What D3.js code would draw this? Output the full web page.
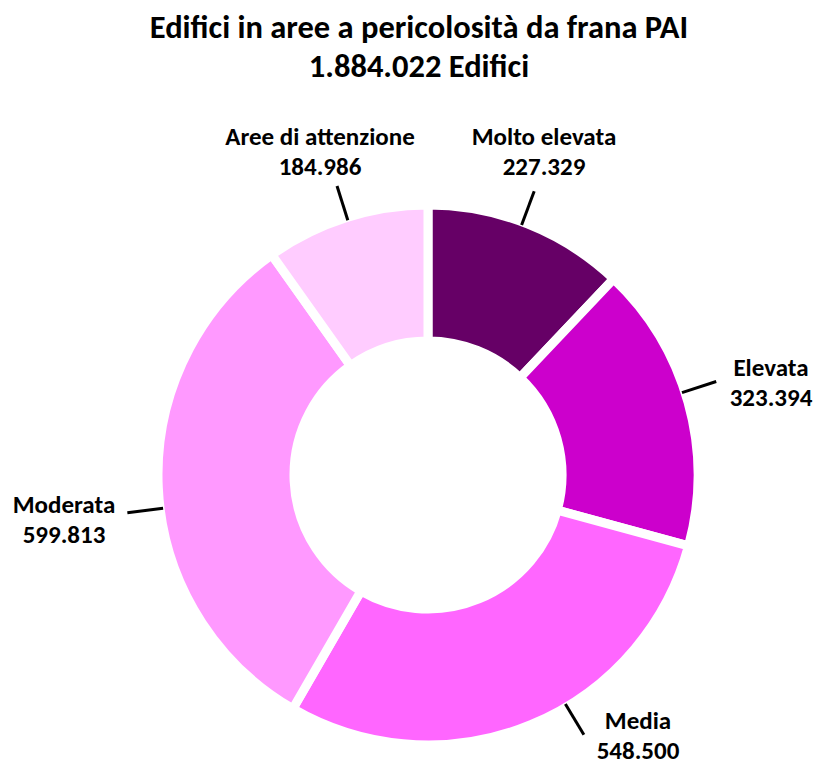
<!DOCTYPE html>
<html>
<head>
<meta charset="utf-8">
<script src="https://cdn.jsdelivr.net/npm/d3@7"></script>
<style>
  html, body { margin: 0; padding: 0; background: #fff; }
  svg text { font-family: Carlito, Calibri, Lato, "Open Sans", sans-serif; font-weight: bold; fill: #000; }
</style>
</head>
<body>
<svg id="chart" width="818" height="767"></svg>
<script>
// Buildings by landslide hazard class (PAI)
const categories = ["Molto elevata", "Elevata", "Media", "Moderata", "Aree di attenzione"];
const values = [227329, 323394, 548500, 599813, 184986];
const valueLabels = ["227.329", "323.394", "548.500", "599.813", "184.986"];
const colors = ["#660066", "#CC00CC", "#FF66FF", "#FF99FF", "#FFCCFF"];
const titleLines = ["Edifici in aree a pericolosità da frana PAI", "1.884.022 Edifici"];

// Label placement: leader angle shift (deg) from slice middle, text centre and first baseline
const labelLayout = [
  { shift: -1.2, x: 544, y: 145 },
  { shift: -2.3, x: 771, y: 376 },
  { shift: -8.6, x: 638, y: 729 },
  { shift: -4.5, x: 64,  y: 513 },
  { shift: 0.2,  x: 320, y: 145 }
];

const svg = d3.select("#chart");
const cx = 428, cy = 475;
const outerR = 270, innerR = 134;

// Title
svg.append("g").selectAll("text")
  .data(titleLines)
  .join("text")
  .attr("x", 419)
  .attr("y", (d, i) => 38 + i * 39)
  .attr("text-anchor", "middle")
  .attr("font-size", 32.5)
  .text(d => d);

const pie = d3.pie().sort(null).value(d => d.value);
const arcs = pie(categories.map((c, i) => ({ name: c, value: values[i], label: valueLabels[i], color: colors[i] })));
const arc = d3.arc().innerRadius(innerR).outerRadius(outerR);

const g = svg.append("g").attr("transform", `translate(${cx},${cy})`);

g.selectAll("path")
  .data(arcs)
  .join("path")
  .attr("d", arc)
  .attr("fill", d => d.data.color)
  .attr("stroke", "#fff")
  .attr("stroke-width", 9)
  .attr("stroke-linejoin", "miter");

// Leader lines
const polar = (a, r) => [r * Math.sin(a), -r * Math.cos(a)];
g.selectAll("line.leader")
  .data(arcs)
  .join("line")
  .attr("class", "leader")
  .each(function (d, i) {
    const a = (d.startAngle + d.endAngle) / 2 + labelLayout[i].shift * Math.PI / 180;
    const p0 = polar(a, outerR - 3), p1 = polar(a, outerR + 33);
    d3.select(this)
      .attr("x1", p0[0]).attr("y1", p0[1])
      .attr("x2", p1[0]).attr("y2", p1[1]);
  })
  .attr("stroke", "#000")
  .attr("stroke-width", 3);

// Category labels with values
const lab = svg.append("g").selectAll("text")
  .data(arcs)
  .join("text")
  .attr("text-anchor", "middle")
  .attr("font-size", 25);
lab.append("tspan")
  .attr("x", (d, i) => labelLayout[i].x)
  .attr("y", (d, i) => labelLayout[i].y)
  .text(d => d.data.name);
lab.append("tspan")
  .attr("x", (d, i) => labelLayout[i].x)
  .attr("y", (d, i) => labelLayout[i].y + 30)
  .text(d => d.data.label);
</script>
</body>
</html>
